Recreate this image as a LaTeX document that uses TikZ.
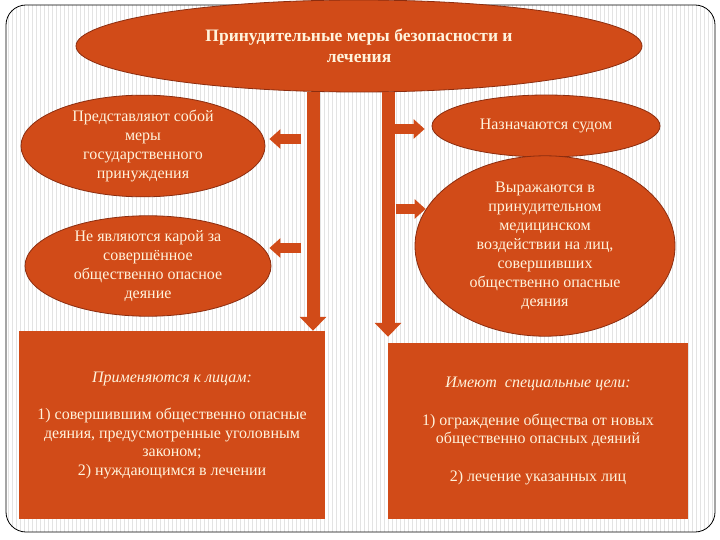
\documentclass[tikz,border=0pt]{standalone}
\usepackage{fontspec}
\setmainfont{Liberation Serif}
\usetikzlibrary{shapes.geometric,arrows.meta,calc}
\definecolor{rust}{RGB}{209,75,24}
\definecolor{rustdark}{RGB}{140,45,15}
\definecolor{cream}{RGB}{255,243,220}

\begin{document}
\begin{tikzpicture}[x=1pt, y=-1pt,
        oval/.style = {ellipse, draw=rustdark, line width=0.8pt, fill=rust, text=cream,
                       align=center, inner sep=0pt, font=\fontsize{16}{19}\selectfont},
        panel/.style = {rectangle, fill=rust, text=cream, align=center, inner sep=0pt,
                        font=\fontsize{16}{18.5}\selectfont},
        bigarrow/.style = {rust, line width=13pt, -{Triangle[width=26pt, length=14pt]}},
        smallarrow/.style = {rust, line width=10pt, -{Triangle[width=19pt, length=11pt]}}]
    \useasboundingbox (0,0) rectangle (720,540);

    % Sfondo a righe
    \begin{scope}
        \clip[rounded corners=20pt] (6,5) rectangle (715,532);
        \fill[white] (6,5) rectangle (715,532);
        \foreach \x in {8,12,...,712}
            \draw[gray!22, line width=0.7pt] (\x,5) -- (\x,532);
    \end{scope}
    \draw[black, line width=0.8pt, rounded corners=20pt] (6,5) rectangle (715,532);

    % Ovali
    \node[oval, minimum width=566pt, minimum height=92pt, font=\fontsize{17.5}{21}\selectfont\bfseries]
        (title) at (359,46) {Принудительные меры безопасности и\\лечения};
    \node[oval, minimum width=244pt, minimum height=92pt] (repr) at (143,146)
        {Представляют собой\\меры\\государственного\\принуждения};
    \node[oval, minimum width=246pt, minimum height=96pt] (nopunish) at (148,266)
        {Не являются карой за\\совершённое\\общественно опасное\\деяние};
    \node[oval, minimum width=228pt, minimum height=62pt] (court) at (546,126)
        {Назначаются судом};
    \node[oval, minimum width=260pt, minimum height=156pt] (medical) at (545,246)
        {Выражаются в\\принудительном\\медицинском\\воздействии на лиц,\\совершивших\\общественно опасные\\деяния};

    % Riquadri
    \node[panel, minimum width=306pt, minimum height=188pt] (apply) at (172,425)
        {\textit{Применяются к лицам:}\\[19pt]
         1) совершившим общественно опасные\\деяния, предусмотренные уголовным\\законом;\\
         2) нуждающимся в лечении};
    \node[panel, minimum width=300pt, minimum height=176pt] (goals) at (538,431)
        {\textit{Имеют~ специальные цели:}\\[19pt]
         1) ограждение общества от новых\\общественно опасных деяний\\[19pt]
         2) лечение указанных лиц};

    % Frecce
    \draw[bigarrow] ($(title.south)+(-46,0)$) -- ($(title.south |- apply.north)+(-46,0)$);
    \draw[bigarrow] ($(title.south)+(29,0)$) -- ($(title.south |- goals.north)+(29,-6)$);
    \draw[smallarrow] ($(repr.east)+(36,-7)$) -- ($(repr.east)+(4,-7)$);
    \draw[smallarrow] ($(nopunish.east)+(30,-18)$) -- ($(nopunish.east)+(-2,-18)$);
    \draw[smallarrow] ($(court.west)+(-37,3)$) -- ($(court.west)+(-7,3)$);
    \draw[smallarrow] ($(medical.west)+(-19,-37)$) -- ($(medical.west)+(11,-37)$);
\end{tikzpicture}
\end{document}
